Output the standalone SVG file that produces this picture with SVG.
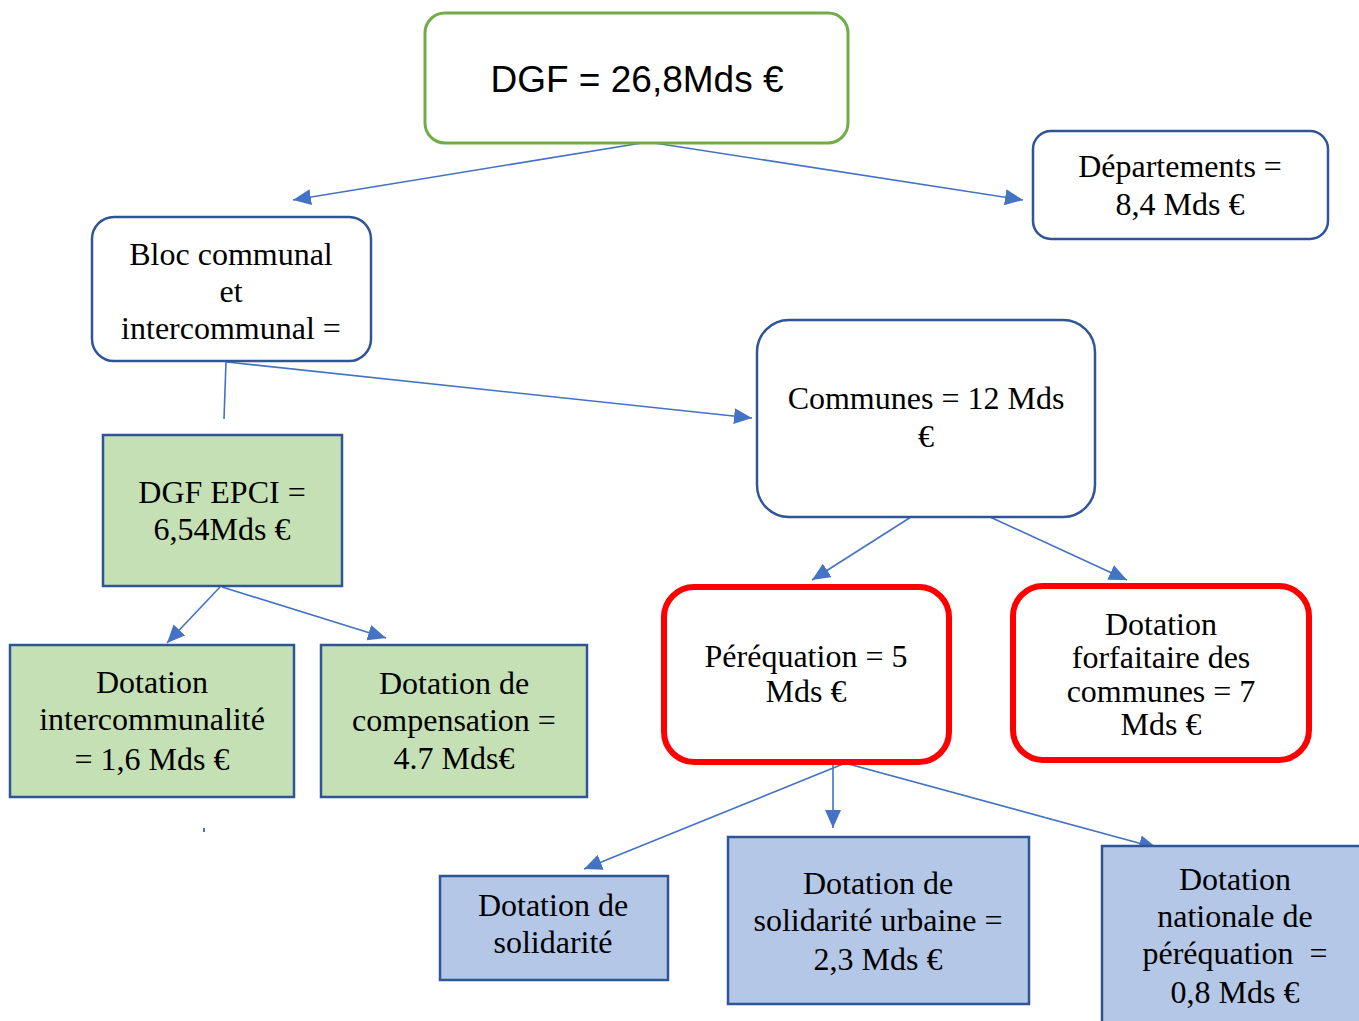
<svg xmlns="http://www.w3.org/2000/svg" width="1359" height="1021" viewBox="0 0 1359 1021">
<style>
.t{font-family:"Liberation Serif","Times New Roman",serif;font-size:32px;fill:#000;text-anchor:middle}
.s{font-family:"Liberation Sans",Arial,sans-serif;font-size:37px;fill:#000;text-anchor:middle}
.wb{fill:#fff;stroke:#2F5597;stroke-width:2.5}
.gb{fill:#C5E0B4;stroke:#2F5597;stroke-width:2.5}
.bb{fill:#B4C7E7;stroke:#2F5597;stroke-width:2.5}
.rb{fill:#fff;stroke:#FF0000;stroke-width:6}
.c{stroke:#4472C4;stroke-width:1.6;fill:none}
.a{marker-end:url(#ah)}
</style>
<defs>
<marker id="ah" viewBox="0 0 18 16" refX="18" refY="8" markerWidth="18" markerHeight="16" markerUnits="userSpaceOnUse" orient="auto">
<path d="M0,0 L18,8 L0,16 Z" fill="#4472C4"/>
</marker>
</defs>
<rect width="1359" height="1021" fill="#fff"/>
<g id="connectors">
<line class="c a" x1="648" y1="142" x2="293" y2="200"/>
<line class="c a" x1="648" y1="142" x2="1023" y2="200"/>
<line class="c a" x1="227" y1="362" x2="752" y2="418"/>
<line class="c" x1="226" y1="362" x2="224" y2="419"/>
<line class="c a" x1="220" y1="587" x2="167" y2="643"/>
<line class="c a" x1="222" y1="587" x2="386" y2="638"/>
<line class="c a" x1="911" y1="517" x2="812" y2="580"/>
<line class="c a" x1="990" y1="517" x2="1127" y2="580"/>
<line class="c a" x1="833" y1="762" x2="833" y2="828"/>
<line class="c a" x1="848" y1="762" x2="584" y2="869"/>
<line class="c a" x1="830" y1="759" x2="1157" y2="848"/>
<rect x="203" y="828" width="2" height="4" fill="#4472C4"/>
</g>
<g id="dgf">
<rect x="425" y="13" width="423" height="130" rx="20" fill="#fff" stroke="#70AD47" stroke-width="3"/>
<text class="s" x="637" y="92">DGF = 26,8Mds €</text>
</g>
<g id="departements">
<rect class="wb" x="1033" y="131" width="295" height="108" rx="18"/>
<text class="t" x="1180" y="177">Départements =</text>
<text class="t" x="1180" y="215">8,4 Mds €</text>
</g>
<g id="bloc">
<rect class="wb" x="92" y="217" width="279" height="144" rx="22"/>
<text class="t" x="231" y="265">Bloc communal</text>
<text class="t" x="231" y="302">et</text>
<text class="t" x="231" y="339">intercommunal =</text>
</g>
<g id="communes">
<rect class="wb" x="757" y="320" width="338" height="197" rx="32"/>
<text class="t" x="926" y="409">Communes = 12 Mds</text>
<text class="t" x="926" y="447">€</text>
</g>
<g id="epci">
<rect class="gb" x="103" y="435" width="239" height="151"/>
<text class="t" x="222" y="503">DGF EPCI =</text>
<text class="t" x="222" y="540">6,54Mds €</text>
</g>
<g id="interco">
<rect class="gb" x="10" y="645" width="284" height="152"/>
<text class="t" x="152" y="693">Dotation</text>
<text class="t" x="152" y="730">intercommunalité</text>
<text class="t" x="152" y="770">= 1,6 Mds €</text>
</g>
<g id="compensation">
<rect class="gb" x="321" y="645" width="266" height="152"/>
<text class="t" x="454" y="694">Dotation de</text>
<text class="t" x="454" y="731">compensation =</text>
<text class="t" x="454" y="769">4.7 Mds€</text>
</g>
<g id="perequation">
<rect class="rb" x="664" y="587" width="285" height="175" rx="30"/>
<text class="t" x="806" y="667">Péréquation = 5</text>
<text class="t" x="806" y="702">Mds €</text>
</g>
<g id="forfaitaire">
<rect class="rb" x="1013" y="586" width="296" height="174" rx="30"/>
<text class="t" x="1161" y="635">Dotation</text>
<text class="t" x="1161" y="668">forfaitaire des</text>
<text class="t" x="1161" y="702">communes = 7</text>
<text class="t" x="1161" y="735">Mds €</text>
</g>
<g id="solidarite">
<rect class="bb" x="440" y="876" width="228" height="104"/>
<text class="t" x="553" y="916">Dotation de</text>
<text class="t" x="553" y="953">solidarité</text>
</g>
<g id="urbaine">
<rect class="bb" x="728" y="837" width="301" height="167"/>
<text class="t" x="878" y="894">Dotation de</text>
<text class="t" x="878" y="931">solidarité urbaine =</text>
<text class="t" x="878" y="970">2,3 Mds €</text>
</g>
<g id="nationale">
<rect class="bb" x="1102" y="846" width="270" height="190"/>
<text class="t" x="1235" y="890">Dotation</text>
<text class="t" x="1235" y="927">nationale de</text>
<text class="t" x="1235" y="964" xml:space="preserve">péréquation  =</text>
<text class="t" x="1235" y="1003">0,8 Mds €</text>
</g>
</svg>
